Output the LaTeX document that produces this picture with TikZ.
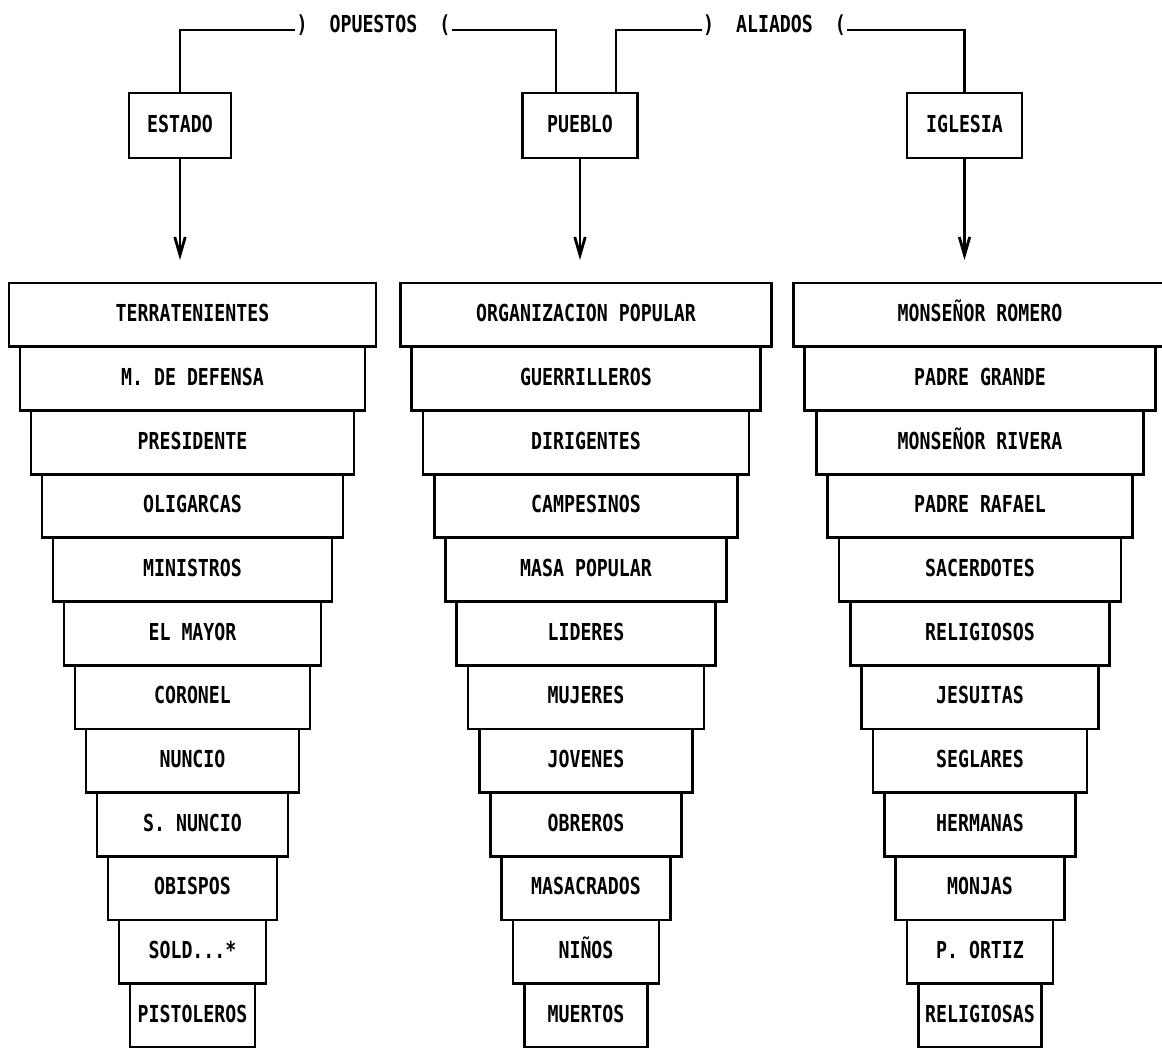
\documentclass[tikz,border=0pt]{standalone}
\usepackage{fontspec}
\newfontfamily\plotfont{DejaVu Sans Mono}[FakeStretch=0.78]
\usetikzlibrary{positioning, arrows.meta}

\begin{document}
\begin{tikzpicture}[x=0.2mm, y=-0.2mm, line width=1.6pt, every node/.style={font=\fontsize{13.3}{16}\plotfont\bfseries}
    , tier/.style={draw, outer sep=0pt, inner sep=0pt, text height=9.7pt, text depth=2pt, minimum height=12.74mm, minimum width=#1}
    , head/.style={draw, outer sep=0pt, text height=9.7pt, text depth=2pt, minimum height=13mm, minimum width=#1}
    , tag/.style={inner sep=0pt, anchor=base}
    , down/.style={-{Straight Barb[length=3.6mm, width=2.1mm]}, shorten >=4.6mm}
    ]

    \useasboundingbox (0,0) rectangle (1162,1048);

    \node[head=20.4mm] (estado) at (180,125.5) {ESTADO};
    \node[head=23mm] (pueblo) at (580,125.5) {PUEBLO};
    \node[head=23mm] (iglesia) at (964.5,125.5) {IGLESIA};

    \node[tag] (opuestos) at (373.5,33) {)\ \ OPUESTOS\ \ (};
    \node[tag] (aliados) at (774.5,33) {)\ \ ALIADOS\ \ (};

    \draw (estado.north) |- ([yshift=0.6mm]opuestos.base west);
    \draw ([xshift=-4.8mm]pueblo.north) |- ([yshift=0.6mm]opuestos.base east);
    \draw ([xshift=7.2mm]pueblo.north) |- ([yshift=0.6mm]aliados.base west);
    \draw (iglesia.north) |- ([yshift=0.6mm]aliados.base east);

    % Estado
    \node[tier=73.4mm] (e1) at (192.5,314.85) {TERRATENIENTES};
    \node[tier=69mm, below=0pt of e1] (e2) {M. DE DEFENSA};
    \node[tier=64.6mm, below=0pt of e2] (e3) {PRESIDENTE};
    \node[tier=60.2mm, below=0pt of e3] (e4) {OLIGARCAS};
    \node[tier=55.8mm, below=0pt of e4] (e5) {MINISTROS};
    \node[tier=51.4mm, below=0pt of e5] (e6) {EL MAYOR};
    \node[tier=47mm, below=0pt of e6] (e7) {CORONEL};
    \node[tier=42.6mm, below=0pt of e7] (e8) {NUNCIO};
    \node[tier=38.2mm, below=0pt of e8] (e9) {S. NUNCIO};
    \node[tier=33.8mm, below=0pt of e9] (e10) {OBISPOS};
    \node[tier=29.4mm, below=0pt of e10] (e11) {SOLD...*};
    \node[tier=25mm, below=0pt of e11] (e12) {PISTOLEROS};

    % Pueblo
    \node[tier=74.2mm] (p1) at (586,314.85) {ORGANIZACION POPULAR};
    \node[tier=69.7mm, below=0pt of p1] (p2) {GUERRILLEROS};
    \node[tier=65.2mm, below=0pt of p2] (p3) {DIRIGENTES};
    \node[tier=60.7mm, below=0pt of p3] (p4) {CAMPESINOS};
    \node[tier=56.2mm, below=0pt of p4] (p5) {MASA POPULAR};
    \node[tier=51.7mm, below=0pt of p5] (p6) {LIDERES};
    \node[tier=47.2mm, below=0pt of p6] (p7) {MUJERES};
    \node[tier=42.7mm, below=0pt of p7] (p8) {JOVENES};
    \node[tier=38.2mm, below=0pt of p8] (p9) {OBREROS};
    \node[tier=33.7mm, below=0pt of p9] (p10) {MASACRADOS};
    \node[tier=29.2mm, below=0pt of p10] (p11) {NIÑOS};
    \node[tier=24.7mm, below=0pt of p11] (p12) {MUERTOS};

    % Iglesia
    \node[tier=74.6mm] (i1) at (980,314.85) {MONSEÑOR ROMERO};
    \node[tier=70.1mm, below=0pt of i1] (i2) {PADRE GRANDE};
    \node[tier=65.5mm, below=0pt of i2] (i3) {MONSEÑOR RIVERA};
    \node[tier=61mm, below=0pt of i3] (i4) {PADRE RAFAEL};
    \node[tier=56.4mm, below=0pt of i4] (i5) {SACERDOTES};
    \node[tier=51.9mm, below=0pt of i5] (i6) {RELIGIOSOS};
    \node[tier=47.4mm, below=0pt of i6] (i7) {JESUITAS};
    \node[tier=42.8mm, below=0pt of i7] (i8) {SEGLARES};
    \node[tier=38.3mm, below=0pt of i8] (i9) {HERMANAS};
    \node[tier=33.7mm, below=0pt of i9] (i10) {MONJAS};
    \node[tier=29.2mm, below=0pt of i10] (i11) {P. ORTIZ};
    \node[tier=24.7mm, below=0pt of i11] (i12) {RELIGIOSAS};

    \draw[down] (estado.south) -- (estado.south |- e1.north);
    \draw[down] (pueblo.south) -- (pueblo.south |- p1.north);
    \draw[down] (iglesia.south) -- (iglesia.south |- i1.north);

\end{tikzpicture}
\end{document}
